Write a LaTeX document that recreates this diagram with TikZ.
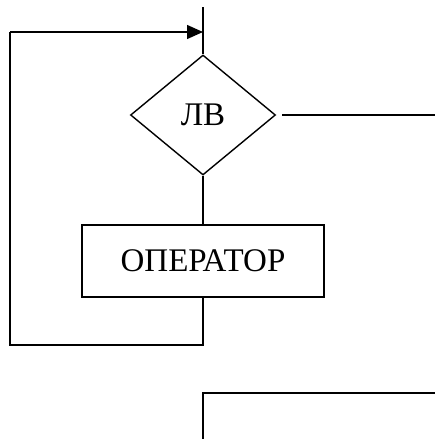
\documentclass[tikz,border=0pt]{standalone}
\usepackage{fontspec}
\setmainfont{Liberation Serif}
\usetikzlibrary{shapes.geometric,arrows.meta}
\begin{document}
\begin{tikzpicture}[x=1pt,y=-1pt,line width=1.4pt,
  dec/.style={draw,diamond,minimum width=145pt,minimum height=120pt,inner sep=0pt,font=\fontsize{33}{33}\selectfont},
  opbox/.style={draw,rectangle,minimum width=242pt,minimum height=72pt,inner sep=0pt,font=\fontsize{33}{33}\selectfont},
  arr/.style={-{Triangle[length=16pt,width=14pt]}}]
\useasboundingbox (0,0) rectangle (436,439);
\coordinate (top) at (203,7);
\node[dec] (d) at (203,115) {ЛВ};
\node[opbox] (op) at (203,261) {ОПЕРАТОР};
\coordinate (rout) at (435,115);
\coordinate (lb) at (10,345);
\coordinate (lt) at (10,32);
\coordinate (ain) at (203,32);
\coordinate (bstart) at (203,439);
\coordinate (bcorner) at (203,393);
\coordinate (bend) at (435,393);
\draw (top) -- (d.north);
\draw ([xshift=6pt]d.east) -- (rout);
\draw (d.south) -- (op.north);
\draw (op.south) |- (lb) -- (lt);
\draw[arr] (lt) -- (ain);
\draw (bstart) -- (bcorner) -- (bend);
\end{tikzpicture}
\end{document}
